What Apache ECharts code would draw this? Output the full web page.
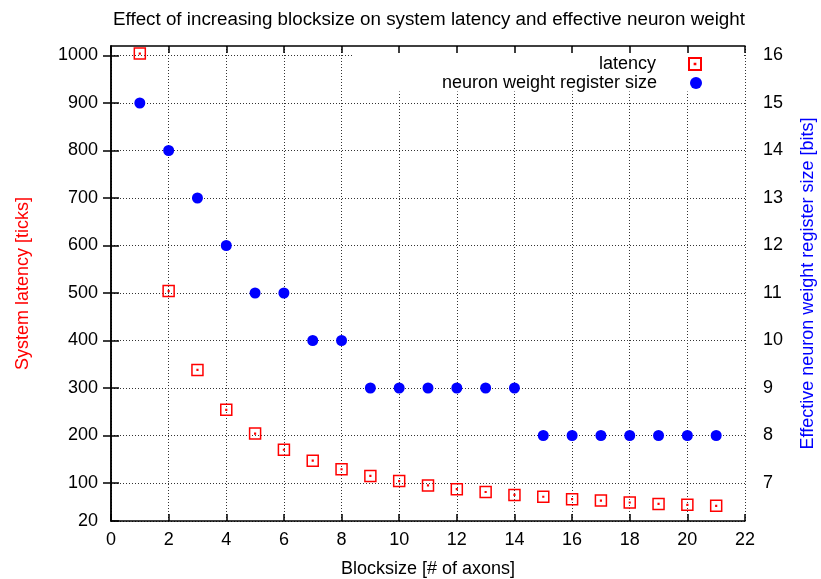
<!DOCTYPE html>
<html>
<head>
<meta charset="utf-8">
<script src="https://cdn.jsdelivr.net/npm/echarts@6/dist/echarts.min.js"></script>
<style>html,body{margin:0;padding:0;background:#fff}#c{width:821px;height:579px}</style>
</head>
<body>
<div id="c"></div>
<script>
const blocksize = [1,2,3,4,5,6,7,8,9,10,11,12,13,14,15,16,17,18,19,20,21];
const latency = [1004,504,338,254,204,170,147,129,115,104,95,87,81,75,71,66,63,59,56,54,52];
const weightBits = [15,14,13,12,11,11,10,10,9,9,9,9,9,9,8,8,8,8,8,8,8];
const xTicks = [0,2,4,6,8,10,12,14,16,18,20,22];
const leftTicks = [20,100,200,300,400,500,600,700,800,900,1000];
const rightTicks = [7,8,9,10,11,12,13,14,15,16];

const FONT = 'Liberation Sans';
const FS = 18;
const chart = echarts.init(document.getElementById('c'), null, {renderer: 'canvas'});
const gridStyle = {show: true, lineStyle: {color: '#333', type: [1, 2], width: 1}};
const axLine = {show: true, lineStyle: {color: '#000', width: 1.5}};
const tick = (len) => ({show: true, inside: true, length: len, lineStyle: {color: '#000', width: 1.5}});
const plain = v => String(v);

chart.setOption({
  animation: false,
  backgroundColor: '#fff',
  textStyle: {fontFamily: FONT},
  title: {
    text: 'Effect of increasing blocksize on system latency and effective neuron weight',
    left: 424, top: 5, textAlign: 'center',
    textStyle: {fontFamily: FONT, fontSize: 18.8, fontWeight: 'normal', color: '#000'}
  },
  grid: {left: 111, right: 76, top: 46, bottom: 58, containLabel: false, outerBoundsMode: 'none'},
  legend: [
    {data: ['latency'], orient: 'vertical', align: 'right', right: 119, top: 55, padding: 0,
     itemWidth: 12, itemHeight: 12,
     textStyle: {fontFamily: FONT, fontSize: FS, color: '#000', padding: [0, 28, 0, 0]}},
    {data: ['neuron weight register size'], orient: 'vertical', align: 'right', right: 119, top: 74, padding: 0,
     itemWidth: 12, itemHeight: 12,
     textStyle: {fontFamily: FONT, fontSize: FS, color: '#000', padding: [0, 28, 0, 0]}}
  ],
  xAxis: [
    {type: 'value', position: 'bottom', min: 0, max: 22, interval: 2, z: 0,
     name: 'Blocksize [# of axons]', nameLocation: 'middle', nameGap: 39,
     nameTextStyle: {fontFamily: FONT, fontSize: FS, color: '#000'},
     axisLine: axLine, axisTick: tick(7),
     axisLabel: {fontFamily: FONT, fontSize: FS, color: '#000', margin: 10, formatter: plain},
     splitLine: gridStyle},
    {type: 'value', position: 'top', min: 0, max: 22, interval: 2, z: 3,
     axisLine: axLine, axisTick: tick(7), axisLabel: {show: false}, splitLine: {show: false}}
  ],
  yAxis: [
    {type: 'value', position: 'left', min: 20, max: 1020, z: 0,
     name: 'System latency [ticks]', nameLocation: 'middle', nameGap: 79, nameRotate: 90,
     nameTextStyle: {fontFamily: FONT, fontSize: FS, color: '#ff0000'},
     axisLine: axLine,
     axisTick: {show: true, inside: true, length: 8, lineStyle: {color: '#000', width: 1.5}, customValues: leftTicks},
     axisLabel: {fontFamily: FONT, fontSize: FS, color: '#000', margin: 13, customValues: leftTicks, formatter: plain},
     splitLine: gridStyle},
    {type: 'value', position: 'right', min: 6.2, max: 16.2, z: 3,
     name: 'Effective neuron weight register size [bits]', nameLocation: 'middle', nameGap: 54, nameRotate: 90,
     nameTextStyle: {fontFamily: FONT, fontSize: FS, color: '#0000ff'},
     axisLine: axLine,
     axisTick: {show: true, inside: true, length: 8, lineStyle: {color: '#000', width: 1.5}, customValues: rightTicks},
     axisLabel: {fontFamily: FONT, fontSize: FS, color: '#000', margin: 18, customValues: rightTicks, formatter: plain},
     splitLine: {show: false}}
  ],
  graphic: {elements: [
    {type: 'rect', z: 1, shape: {x: 353, y: 47.5, width: 391, height: 44}, style: {fill: '#fff'}, silent: true}
  ]},
  series: [
    {name: 'latency', type: 'scatter', xAxisIndex: 0, yAxisIndex: 0,
     symbol: 'path://M0,0L10,0L10,10L0,10Z M4.7,4.7L5.3,4.7L5.3,5.3L4.7,5.3Z', symbolSize: 11,
     itemStyle: {color: 'transparent', borderColor: '#ff0000', borderWidth: 1.5, opacity: 1},
     data: blocksize.map((b, i) => [b, latency[i]]), z: 5},
    {name: 'neuron weight register size', type: 'scatter', xAxisIndex: 0, yAxisIndex: 1,
     symbol: 'circle', symbolSize: 11,
     itemStyle: {color: '#0000ff', opacity: 1},
     data: blocksize.map((b, i) => [b, weightBits[i]]), z: 5}
  ]
});
</script>
</body>
</html>
